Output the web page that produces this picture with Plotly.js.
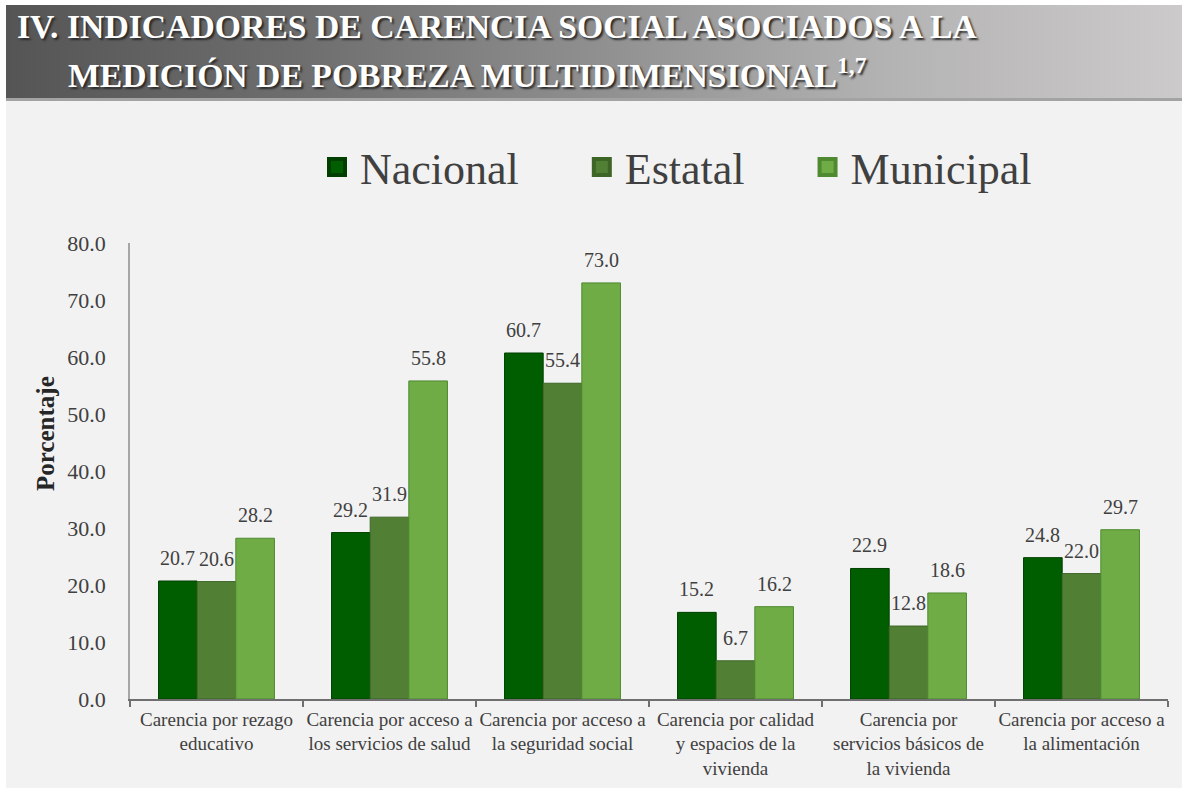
<!DOCTYPE html>
<html>
<head>
<meta charset="utf-8">
<script src="https://cdn.plot.ly/plotly-3.0.1.min.js"></script>
<style>
  html, body { margin: 0; padding: 0; background: #ffffff; }
  #wrap { position: relative; width: 1182px; height: 788px; overflow: hidden; background: #ffffff; }
  #banner { position: absolute; left: 6px; top: 5px; width: 1176px; height: 93px;
    background: linear-gradient(to right, #555555 0%, #6e6e6e 25%, #8f8f8f 50%, #b4b3b3 75%, #cccaca 100%);
    border-bottom: 3px solid #a3a3a3; }
  #panel { position: absolute; left: 6px; top: 101px; width: 1176px; height: 687px; background: #f2f2f2; }
  #chart { position: absolute; left: 0; top: 0; width: 1182px; height: 788px; }
</style>
</head>
<body>
<div id="wrap">
  <div id="banner"></div>
  <div id="panel"></div>
  <div id="chart"></div>
</div>
<script>
// ---- data ----
const categories = [
  'Carencia por rezago<br>educativo',
  'Carencia por acceso a<br>los servicios de salud',
  'Carencia por acceso a<br>la seguridad social',
  'Carencia por calidad<br>y espacios de la<br>vivienda',
  'Carencia por<br>servicios básicos de<br>la vivienda',
  'Carencia por acceso a<br>la alimentación'
];
const seriesNames = ['Nacional', 'Estatal', 'Municipal'];
const nacional  = [20.7, 29.2, 60.7, 15.2, 22.9, 24.8];
const estatal   = [20.6, 31.9, 55.4, 6.7, 12.8, 22.0];
const municipal = [28.2, 55.8, 73.0, 16.2, 18.6, 29.7];
const yTickVals = [0, 10, 20, 30, 40, 50, 60, 70, 80];
const titleLine1 = 'IV. INDICADORES DE CARENCIA SOCIAL ASOCIADOS A LA';
const titleLine2 = 'MEDICIÓN DE POBREZA MULTIDIMENSIONAL<sup>1,7</sup>';
const yTitle = 'Porcentaje';

// ---- styling ----
const W = 1182, H = 788;
const margin = {l: 130, r: 14, t: 243, b: 89};
const bargap = 0.33;
const fillColors = ['#005e00', '#517f34', '#6fac46'];
const lineColors = ['#003f00', '#3d6526', '#4f8a30'];
const serif = '"Liberation Serif", "Times New Roman", serif';
const textGray = '#404040';

const allSeries = [nacional, estatal, municipal];
const legendPad = ['\u00a0\u00a0\u00a0\u00a0\u00a0', '\u00a0\u00a0\u00a0\u00a0\u00a0', ''];

// bars (legend entries are provided by matching square-marker entries in the same legend group)
const traces = allSeries.map((vals, i) => ({
  type: 'bar',
  name: seriesNames[i],
  legendgroup: seriesNames[i],
  showlegend: false,
  x: categories.map((c, j) => j),
  y: vals,
  marker: {color: fillColors[i], line: {color: lineColors[i], width: 1}},
  hoverinfo: 'y+name'
}));
seriesNames.forEach((n, i) => {
  traces.push({
    type: 'scatter', mode: 'markers',
    name: n + legendPad[i],
    legendgroup: n,
    x: [null], y: [null],
    marker: {symbol: 'square', size: 16, color: fillColors[i], line: {color: lineColors[i], width: 4}},
    hoverinfo: 'skip'
  });
});

const plotW = W - margin.l - margin.r;
const plotH = H - margin.t - margin.b;
const barW = plotW / categories.length * (1 - bargap) / seriesNames.length;

const annotations = [];
allSeries.forEach((vals, i) => {
  vals.forEach((v, j) => {
    annotations.push({
      x: j, y: v, xref: 'x', yref: 'y',
      text: v.toFixed(1), showarrow: false,
      xanchor: 'center', yanchor: 'bottom',
      xshift: (i - 1) * barW, yshift: 10,
      font: {family: serif, size: 20, color: textGray}
    });
  });
});
annotations.push({
  text: yTitle, textangle: -90, showarrow: false,
  xref: 'paper', yref: 'paper',
  x: (45 - margin.l) / plotW, y: (H - margin.b - 434) / plotH,
  xanchor: 'center', yanchor: 'middle',
  font: {family: serif, size: 25, color: '#262626', weight: 'bold'}
});
annotations.push({
  text: titleLine2, showarrow: false,
  xref: 'paper', yref: 'paper',
  x: (66 - margin.l) / plotW, y: (H - margin.b - 73) / plotH,
  xanchor: 'left', yanchor: 'middle',
  font: {family: serif, size: 33.7, color: '#ffffff', weight: 'bold', shadow: '2px 2px 2px #2a2a2a'}
});

const layout = {
  width: W, height: H,
  margin: margin,
  paper_bgcolor: 'rgba(0,0,0,0)',
  plot_bgcolor: 'rgba(0,0,0,0)',
  barmode: 'group',
  bargap: bargap,
  bargroupgap: 0,
  title: {
    text: titleLine1,
    x: 17 / W, xref: 'container', xanchor: 'left',
    y: 1 - 26 / H, yref: 'container', yanchor: 'middle',
    font: {family: serif, size: 33.7, color: '#ffffff', weight: 'bold', shadow: '2px 2px 2px #2a2a2a'}
  },
  showlegend: true,
  legend: {
    orientation: 'h',
    itemwidth: 36,
    x: (314 - margin.l) / plotW, xanchor: 'left',
    y: (H - margin.b - 132) / plotH, yanchor: 'top',
    font: {family: serif, size: 44, color: textGray},
    bgcolor: 'rgba(0,0,0,0)'
  },
  xaxis: {
    type: 'category',
    tickmode: 'array',
    tickvals: categories.map((c, j) => j),
    ticktext: categories,
    tickangle: 0,
    range: [-0.5, categories.length - 0.5],
    showline: true, linecolor: '#6f6f6f', linewidth: 1.5,
    ticks: 'outside', tickson: 'boundaries', ticklen: 6, tickcolor: '#6f6f6f', tickwidth: 1.5,
    ticklabelstandoff: 2,
    tickfont: {family: serif, size: 19, color: textGray},
    showgrid: false, zeroline: false, fixedrange: true
  },
  yaxis: {
    range: [0, 80],
    tickmode: 'array',
    tickvals: yTickVals,
    ticktext: yTickVals.map(v => v.toFixed(1)),
    showline: true, linecolor: '#a6a6a6', linewidth: 1.5,
    ticks: '', ticklabelstandoff: 18,
    tickfont: {family: serif, size: 22, color: textGray},
    showgrid: false, zeroline: false, fixedrange: true
  },
  annotations: annotations
};

Plotly.newPlot('chart', traces, layout, {displayModeBar: false});
</script>
</body>
</html>
